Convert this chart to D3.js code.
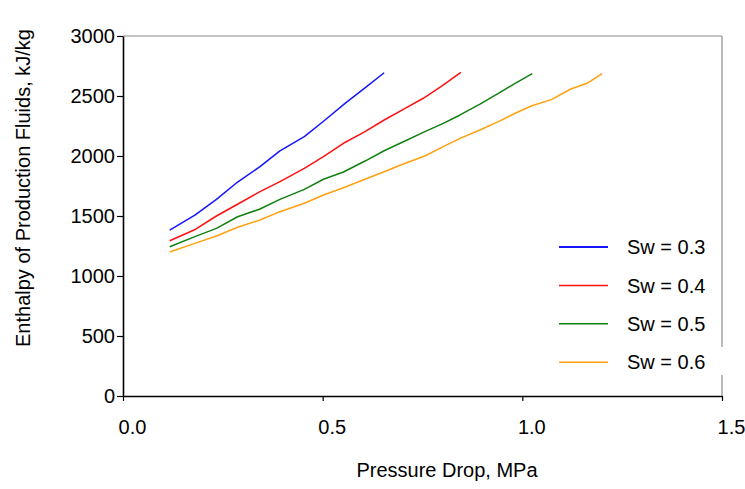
<!DOCTYPE html>
<html>
<head>
<meta charset="utf-8">
<script src="https://cdn.jsdelivr.net/npm/d3@7"></script>
<style>
  html, body { margin: 0; padding: 0; background: #fff; }
  svg { display: block; font-family: "Liberation Sans", Arial, sans-serif; }
</style>
</head>
<body>
<svg id="chart" width="745" height="489"></svg>
<script>
// ---- data ----
const seriesNames = ["Sw = 0.3", "Sw = 0.4", "Sw = 0.5", "Sw = 0.6"];
const seriesColors = ["#1515ff", "#ff1010", "#108010", "#ffa010"];

const sw03X = [0.117, 0.18, 0.234, 0.287, 0.343, 0.393, 0.454, 0.506, 0.556, 0.606, 0.654];
const sw03Y = [1383, 1508, 1639, 1783, 1911, 2042, 2161, 2300, 2439, 2567, 2694];

const sw04X = [0.117, 0.178, 0.234, 0.288, 0.343, 0.393, 0.454, 0.502, 0.552, 0.606, 0.654, 0.702, 0.752, 0.798, 0.846];
const sw04Y = [1294, 1383, 1500, 1600, 1703, 1786, 1897, 1994, 2106, 2203, 2300, 2389, 2481, 2583, 2697];

const sw05X = [0.117, 0.18, 0.234, 0.287, 0.343, 0.393, 0.454, 0.502, 0.552, 0.606, 0.654, 0.702, 0.756, 0.802, 0.844, 0.894, 0.94, 0.982, 1.025];
const sw05Y = [1244, 1328, 1397, 1494, 1558, 1639, 1722, 1806, 1867, 1958, 2044, 2119, 2203, 2272, 2342, 2433, 2522, 2606, 2686];

const sw06X = [0.117, 0.18, 0.234, 0.287, 0.343, 0.393, 0.454, 0.502, 0.552, 0.606, 0.654, 0.702, 0.756, 0.802, 0.844, 0.894, 0.94, 0.982, 1.024, 1.074, 1.12, 1.162, 1.2];
const sw06Y = [1200, 1272, 1333, 1406, 1467, 1536, 1606, 1675, 1736, 1806, 1869, 1933, 2000, 2078, 2147, 2217, 2286, 2356, 2419, 2472, 2556, 2606, 2686];

const xTicks = [0.0, 0.5, 1.0, 1.5];
const yTicks = [0, 500, 1000, 1500, 2000, 2500, 3000];
const xTitle = "Pressure Drop, MPa";
const yTitle = "Enthalpy of Production Fluids, kJ/kg";

const seriesX = [sw03X, sw04X, sw05X, sw06X];
const seriesY = [sw03Y, sw04Y, sw05Y, sw06Y];

// ---- layout ----
const svg = d3.select("#chart");
const pLeft = 123, pRight = 722, pTop = 36, pBottom = 396;
const fs = 20;

const x = d3.scaleLinear().domain([0, 1.5]).range([pLeft, pRight]);
const y = d3.scaleLinear().domain([0, 3000]).range([pBottom, pTop]);

// plot frame: top and right in gray
svg.append("line").attr("x1", pLeft).attr("x2", pRight).attr("y1", pTop).attr("y2", pTop)
  .attr("stroke", "#8c8c8c").attr("stroke-width", 1.2);
svg.append("line").attr("x1", pRight).attr("x2", pRight).attr("y1", pTop).attr("y2", pBottom)
  .attr("stroke", "#8c8c8c").attr("stroke-width", 1.2);

// lines
const line = d3.line().x(d => x(d[0])).y(d => y(d[1]));
seriesNames.forEach((name, i) => {
  const pts = seriesX[i].map((v, k) => [v, seriesY[i][k]]);
  svg.append("path").datum(pts)
    .attr("d", line)
    .attr("fill", "none")
    .attr("stroke", seriesColors[i])
    .attr("stroke-width", 1.5)
    .attr("stroke-linejoin", "round");
});

// axes
const xAxis = svg.append("g").attr("transform", `translate(0,${pBottom})`)
  .call(d3.axisBottom(x).tickValues(xTicks).tickFormat(d3.format(".1f")).tickSize(5).tickSizeOuter(0).tickPadding(19));
const yAxis = svg.append("g").attr("transform", `translate(${pLeft},0)`)
  .call(d3.axisLeft(y).tickValues(yTicks).tickFormat(d3.format("d")).tickSize(6).tickSizeOuter(0).tickPadding(2));

[xAxis, yAxis].forEach(g => {
  g.select(".domain").attr("stroke", "#000").attr("stroke-width", 1.6);
  g.selectAll(".tick line").attr("stroke", "#000").attr("stroke-width", 1.2);
  g.selectAll(".tick text").attr("fill", "#000").attr("font-size", fs)
    .attr("font-family", "'Liberation Sans', Arial, sans-serif");
});
xAxis.selectAll(".tick text").attr("dx", 9);

// legend
const legend = svg.append("g");
legend.append("rect").attr("x", 700).attr("y", 347).attr("width", 28).attr("height", 28).attr("fill", "#fff");
seriesNames.forEach((name, i) => {
  const ly = 247 + i * 38.4;
  legend.append("line").attr("x1", 559).attr("x2", 608).attr("y1", ly).attr("y2", ly)
    .attr("stroke", seriesColors[i]).attr("stroke-width", i === 0 ? 2 : 1.5);
  legend.append("text").attr("x", 627).attr("y", ly).attr("dy", "0.36em")
    .attr("font-size", fs).attr("fill", "#000").text(name);
});

// titles
svg.append("text").attr("x", 447).attr("y", 477).attr("text-anchor", "middle")
  .attr("font-size", fs).attr("fill", "#000").text(xTitle);
svg.append("text").attr("transform", "translate(30,188) rotate(-90)").attr("text-anchor", "middle")
  .attr("font-size", fs).attr("fill", "#000").text(yTitle);
</script>
</body>
</html>
